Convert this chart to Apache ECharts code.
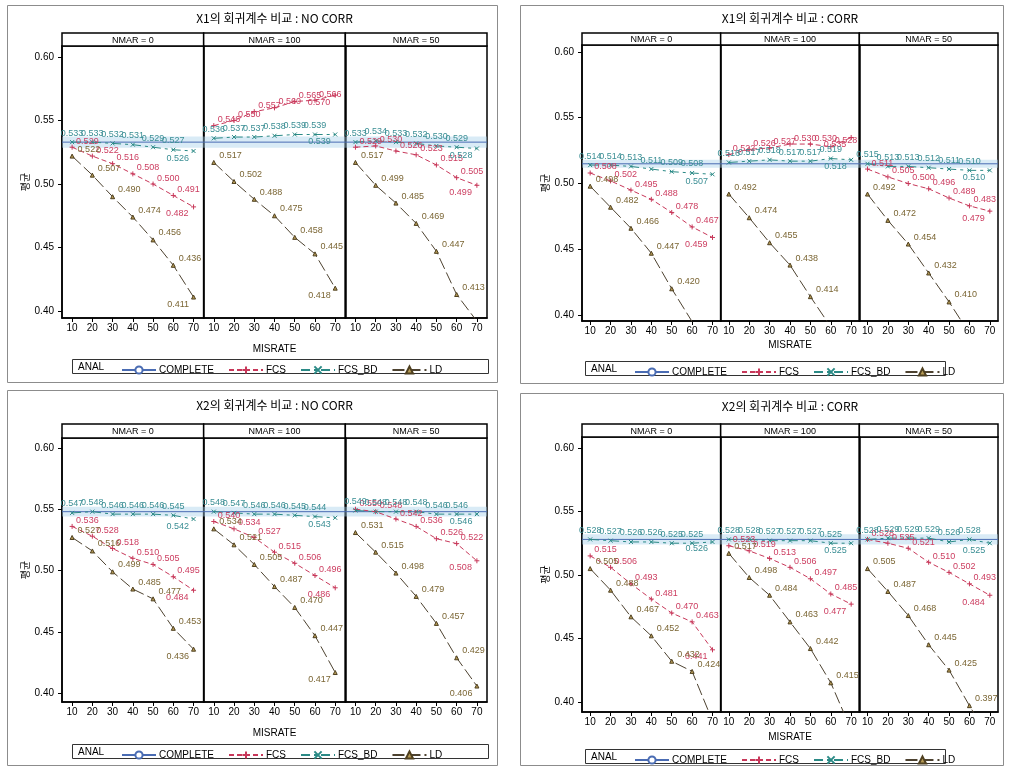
<!DOCTYPE html>
<html>
<head>
<meta charset="UTF-8">
<title></title>
<script src="https://cdn.jsdelivr.net/npm/echarts@6/dist/echarts.min.js"></script>
<style>
body{margin:0;background:#fff}
#main{width:1009px;height:767px}
</style>
</head>
<body>
<div id="main"></div>
<script>
// x축 : 결측률
var misrate = [10, 20, 30, 40, 50, 60, 70];
var nmarNames = ['NMAR = 0', 'NMAR = 100', 'NMAR = 50'];
var yTicks = [0.40, 0.45, 0.50, 0.55, 0.60];
var seriesNames = ['COMPLETE', 'FCS', 'FCS_BD', 'LD'];

// X1 : NO CORR  (행 = NMAR 0, 100, 50)
var x1ncComplete = 0.533;
var x1ncBand = 0.0045;
var x1ncFcs = [
  [0.529, 0.522, 0.516, 0.508, 0.500, 0.491, 0.482],
  [0.546, 0.550, 0.557, 0.560, 0.565, 0.566, 0.570],
  [0.529, 0.530, 0.526, 0.523, 0.515, 0.505, 0.499]
];
var x1ncFcsBd = [
  [0.533, 0.533, 0.532, 0.531, 0.529, 0.527, 0.526],
  [0.536, 0.537, 0.537, 0.538, 0.539, 0.539, 0.539],
  [0.533, 0.534, 0.533, 0.532, 0.530, 0.529, 0.528]
];
var x1ncLd = [
  [0.522, 0.507, 0.490, 0.474, 0.456, 0.436, 0.411],
  [0.517, 0.502, 0.488, 0.475, 0.458, 0.445, 0.418],
  [0.517, 0.499, 0.485, 0.469, 0.447, 0.413, 0.392]
];

// X1 : CORR
var x1cComplete = 0.515;
var x1cBand = 0.003;
var x1cFcs = [
  [0.508, 0.502, 0.495, 0.488, 0.478, 0.467, 0.459],
  [0.522, 0.526, 0.527, 0.530, 0.530, 0.528, 0.535],
  [0.511, 0.505, 0.500, 0.496, 0.489, 0.483, 0.479]
];
var x1cFcsBd = [
  [0.514, 0.514, 0.513, 0.511, 0.509, 0.508, 0.507],
  [0.516, 0.517, 0.518, 0.517, 0.517, 0.519, 0.518],
  [0.515, 0.513, 0.513, 0.512, 0.511, 0.510, 0.510]
];
var x1cLd = [
  [0.498, 0.482, 0.466, 0.447, 0.420, 0.395, 0.370],
  [0.492, 0.474, 0.455, 0.438, 0.414, 0.391, 0.368],
  [0.492, 0.472, 0.454, 0.432, 0.410, 0.386, 0.360]
];

// X2 : NO CORR
var x2ncComplete = 0.548;
var x2ncBand = 0.004;
var x2ncFcs = [
  [0.536, 0.528, 0.518, 0.510, 0.505, 0.495, 0.484],
  [0.540, 0.534, 0.527, 0.515, 0.506, 0.496, 0.486],
  [0.550, 0.548, 0.542, 0.536, 0.526, 0.522, 0.508]
];
var x2ncFcsBd = [
  [0.547, 0.548, 0.546, 0.546, 0.546, 0.545, 0.542],
  [0.548, 0.547, 0.546, 0.546, 0.545, 0.544, 0.543],
  [0.549, 0.548, 0.548, 0.548, 0.546, 0.546, 0.546]
];
var x2ncLd = [
  [0.527, 0.516, 0.499, 0.485, 0.477, 0.453, 0.436],
  [0.534, 0.521, 0.505, 0.487, 0.470, 0.447, 0.417],
  [0.531, 0.515, 0.498, 0.479, 0.457, 0.429, 0.406]
];

// X2 : CORR
var x2cComplete = 0.528;
var x2cBand = 0.004;
var x2cFcs = [
  [0.515, 0.506, 0.493, 0.481, 0.470, 0.463, 0.441],
  [0.523, 0.519, 0.513, 0.506, 0.497, 0.485, 0.477],
  [0.528, 0.525, 0.521, 0.510, 0.502, 0.493, 0.484]
];
var x2cFcsBd = [
  [0.528, 0.527, 0.526, 0.526, 0.525, 0.525, 0.526],
  [0.528, 0.528, 0.527, 0.527, 0.527, 0.525, 0.525],
  [0.528, 0.529, 0.529, 0.529, 0.526, 0.528, 0.525]
];
var x2cLd = [
  [0.505, 0.488, 0.467, 0.452, 0.432, 0.424, 0.385],
  [0.517, 0.498, 0.484, 0.463, 0.442, 0.415, 0.378],
  [0.505, 0.487, 0.468, 0.445, 0.425, 0.397, 0.370]
];

var panels = [
  {title: 'X1의 회귀계수 비교 : NO CORR', complete: x1ncComplete, band: x1ncBand, fcs: x1ncFcs, fcsBd: x1ncFcsBd, ld: x1ncLd},
  {title: 'X1의 회귀계수 비교 : CORR', complete: x1cComplete, band: x1cBand, fcs: x1cFcs, fcsBd: x1cFcsBd, ld: x1cLd},
  {title: 'X2의 회귀계수 비교 : NO CORR', complete: x2ncComplete, band: x2ncBand, fcs: x2ncFcs, fcsBd: x2ncFcsBd, ld: x2ncLd},
  {title: 'X2의 회귀계수 비교 : CORR', complete: x2cComplete, band: x2cBand, fcs: x2cFcs, fcsBd: x2cFcsBd, ld: x2cLd}
];

// 패널 배치
var layouts = [
  {frame: [7, 5, 490, 377], titleY: 18, stripTop: 33, top: 46, bottom: 318, left: 62, right: 487,
   xMin: 5, xMax: 75, yMin: 0.3945, yMax: 0.6087, misrateY: 349, legendBox: [72, 359, 416, 14]},
  {frame: [520, 5, 483, 378], titleY: 18, stripTop: 33, top: 45, bottom: 321, left: 582, right: 998,
   xMin: 6, xMax: 74, yMin: 0.3955, yMax: 0.6053, misrateY: 345, legendBox: [585, 361, 360, 14]},
  {frame: [7, 390, 490, 375], titleY: 405, stripTop: 424, top: 438, bottom: 702, left: 62, right: 487,
   xMin: 5, xMax: 75, yMin: 0.393, yMax: 0.608, misrateY: 733, legendBox: [72, 744, 416, 14]},
  {frame: [520, 393, 483, 372], titleY: 406, stripTop: 424, top: 437, bottom: 712, left: 582, right: 998,
   xMin: 6, xMax: 74, yMin: 0.392, yMax: 0.6087, misrateY: 737, legendBox: [585, 749, 360, 14]}
];

var colors = {
  COMPLETE: '#4a6cb3',
  FCS: '#c8385a',
  FCS_BD: '#2b8a86',
  LD: '#4d4230'
};
var labelColors = {FCS: '#cc3d60', FCS_BD: '#3a8e94', LD: '#7b6634'};
var plusPath = 'path://M0,5L10,5M5,0L5,10';
var crossPath = 'path://M0,0L10,10M10,0L0,10';
var labelFont = 'Liberation Sans';

var grids = [], xAxes = [], yAxes = [], series = [], legends = [], graphics = [];

// 마지막 점의 라벨은 왼쪽 아래로 (그림 밖으로 안 나가게)
function pointData(vals) {
  return misrate.map(function (x, i) {
    if (i === misrate.length - 1) {
      return {value: [x, vals[i]], label: {position: 'left', distance: 2, offset: [0, 7]}};
    }
    return [x, vals[i]];
  });
}

function labelFmt(p) {
  return p.value[1].toFixed(3);
}

layouts.forEach(function (L, p) {
  var P = panels[p];
  var w = (L.right - L.left) / 3;

  // 바깥 테두리
  graphics.push({type: 'rect', shape: {x: L.frame[0] + 0.5, y: L.frame[1] + 0.5, width: L.frame[2], height: L.frame[3]},
    style: {fill: 'none', stroke: '#8c8c8c', lineWidth: 1}, z: 1});
  // 제목
  graphics.push({type: 'text', x: (L.left + L.right) / 2, y: L.titleY,
    style: {text: P.title, font: '12px "Noto Sans CJK KR"', fill: '#000', align: 'center', verticalAlign: 'middle'}});
  // MISRATE
  graphics.push({type: 'text', x: (L.left + L.right) / 2, y: L.misrateY,
    style: {text: 'MISRATE', font: '10px "Liberation Sans"', fill: '#000', align: 'center', verticalAlign: 'middle'}});
  // 범례 상자
  var lb = L.legendBox;
  graphics.push({type: 'rect', shape: {x: lb[0] + 0.5, y: lb[1] + 0.5, width: lb[2], height: lb[3]},
    style: {fill: 'none', stroke: '#333', lineWidth: 1}});
  graphics.push({type: 'text', x: lb[0] + 6, y: lb[1] + lb[3] / 2 + 1,
    style: {text: 'ANAL', font: '10px "Liberation Sans"', fill: '#000', verticalAlign: 'middle'}});

  legends.push({
    left: lb[0] + 44, top: lb[1] + 1, itemWidth: 34, itemHeight: 9, itemGap: 14,
    data: seriesNames, selectedMode: false,
    textStyle: {fontSize: 10, fontFamily: labelFont, color: '#000', padding: [0, 0, 0, -2]}
  });

  for (var s = 0; s < 3; s++) {
    var g = p * 3 + s;
    var left = L.left + s * w;

    // NMAR 머리띠
    graphics.push({type: 'rect', shape: {x: left, y: L.stripTop, width: w, height: L.top - L.stripTop},
      style: {fill: '#fff', stroke: '#000', lineWidth: 1.5}});
    graphics.push({type: 'text', x: left + w / 2, y: (L.stripTop + L.top) / 2 + 1,
      style: {text: nmarNames[s], font: '9px "Liberation Sans"', fill: '#000', align: 'center', verticalAlign: 'middle'}});

    grids.push({left: left, top: L.top, width: w, height: L.bottom - L.top,
      show: true, borderColor: '#000', borderWidth: 1.5, backgroundColor: '#fff', outerBoundsMode: 'none'});

    xAxes.push({
      gridIndex: g, type: 'value', min: L.xMin, max: L.xMax,
      axisLine: {onZero: false, lineStyle: {color: '#000', width: 1.5}},
      axisTick: {customValues: misrate, length: 4, lineStyle: {color: '#000'}},
      axisLabel: {customValues: misrate, fontSize: 10, fontFamily: labelFont, color: '#000', margin: 5},
      splitLine: {show: false}
    });
    yAxes.push({
      gridIndex: g, type: 'value', min: L.yMin, max: L.yMax,
      name: s === 0 ? '평균' : '', nameLocation: 'middle', nameGap: 29, nameRotate: 90,
      nameTextStyle: {fontSize: 10, fontFamily: 'Noto Sans CJK KR', color: '#000'},
      axisLine: {show: true, onZero: false, lineStyle: {color: '#000', width: 1.5}},
      axisTick: {show: s === 0, customValues: yTicks, length: 4, lineStyle: {color: '#000'}},
      axisLabel: {show: s === 0, customValues: yTicks, fontSize: 10, fontFamily: labelFont, color: '#000',
        formatter: function (v) { return v.toFixed(2); }},
      splitLine: {show: false}
    });

    series.push({
      name: 'COMPLETE', type: 'line', xAxisIndex: g, yAxisIndex: g,
      data: [[L.xMin, P.complete], [L.xMax, P.complete]],
      symbol: 'emptyCircle', symbolSize: 6, showSymbol: false, silent: true,
      lineStyle: {color: colors.COMPLETE, width: 1},
      itemStyle: {color: colors.COMPLETE},
      markArea: {silent: true, itemStyle: {color: 'rgba(170,210,235,0.45)'},
        data: [[{yAxis: P.complete - P.band}, {yAxis: P.complete + P.band}]]},
      z: 1
    });
    series.push({
      name: 'FCS', type: 'line', xAxisIndex: g, yAxisIndex: g,
      data: pointData(P.fcs[s]),
      symbol: plusPath, symbolSize: 5,
      lineStyle: {color: colors.FCS, width: 1, type: [5, 3]},
      itemStyle: {color: colors.FCS, borderColor: colors.FCS, borderWidth: 1},
      label: {show: true, position: 'right', distance: 1, offset: [0, -6], formatter: labelFmt,
        fontSize: 9, fontFamily: labelFont, color: labelColors.FCS},
      z: 3
    });
    series.push({
      name: 'FCS_BD', type: 'line', xAxisIndex: g, yAxisIndex: g,
      data: pointData(P.fcsBd[s]),
      symbol: crossPath, symbolSize: 4,
      lineStyle: {color: colors.FCS_BD, width: 1, type: [9, 4, 3, 4]},
      itemStyle: {color: colors.FCS_BD, borderColor: colors.FCS_BD, borderWidth: 1},
      label: {show: true, position: 'top', distance: 2, formatter: labelFmt,
        fontSize: 9, fontFamily: labelFont, color: labelColors.FCS_BD},
      z: 3
    });
    series.push({
      name: 'LD', type: 'line', xAxisIndex: g, yAxisIndex: g,
      data: pointData(P.ld[s]),
      symbol: 'triangle', symbolSize: 4,
      lineStyle: {color: colors.LD, width: 1, type: [12, 4]},
      itemStyle: {color: '#b59a55', borderColor: '#4f4020', borderWidth: 1},
      label: {show: true, position: 'right', distance: 3, offset: [0, -7], formatter: labelFmt,
        fontSize: 9, fontFamily: labelFont, color: labelColors.LD},
      z: 3
    });
  }
});

var chart = echarts.init(document.getElementById('main'));
chart.setOption({
  animation: false,
  backgroundColor: '#fff',
  grid: grids,
  xAxis: xAxes,
  yAxis: yAxes,
  legend: legends,
  series: series,
  graphic: graphics
});
</script>
</body>
</html>
